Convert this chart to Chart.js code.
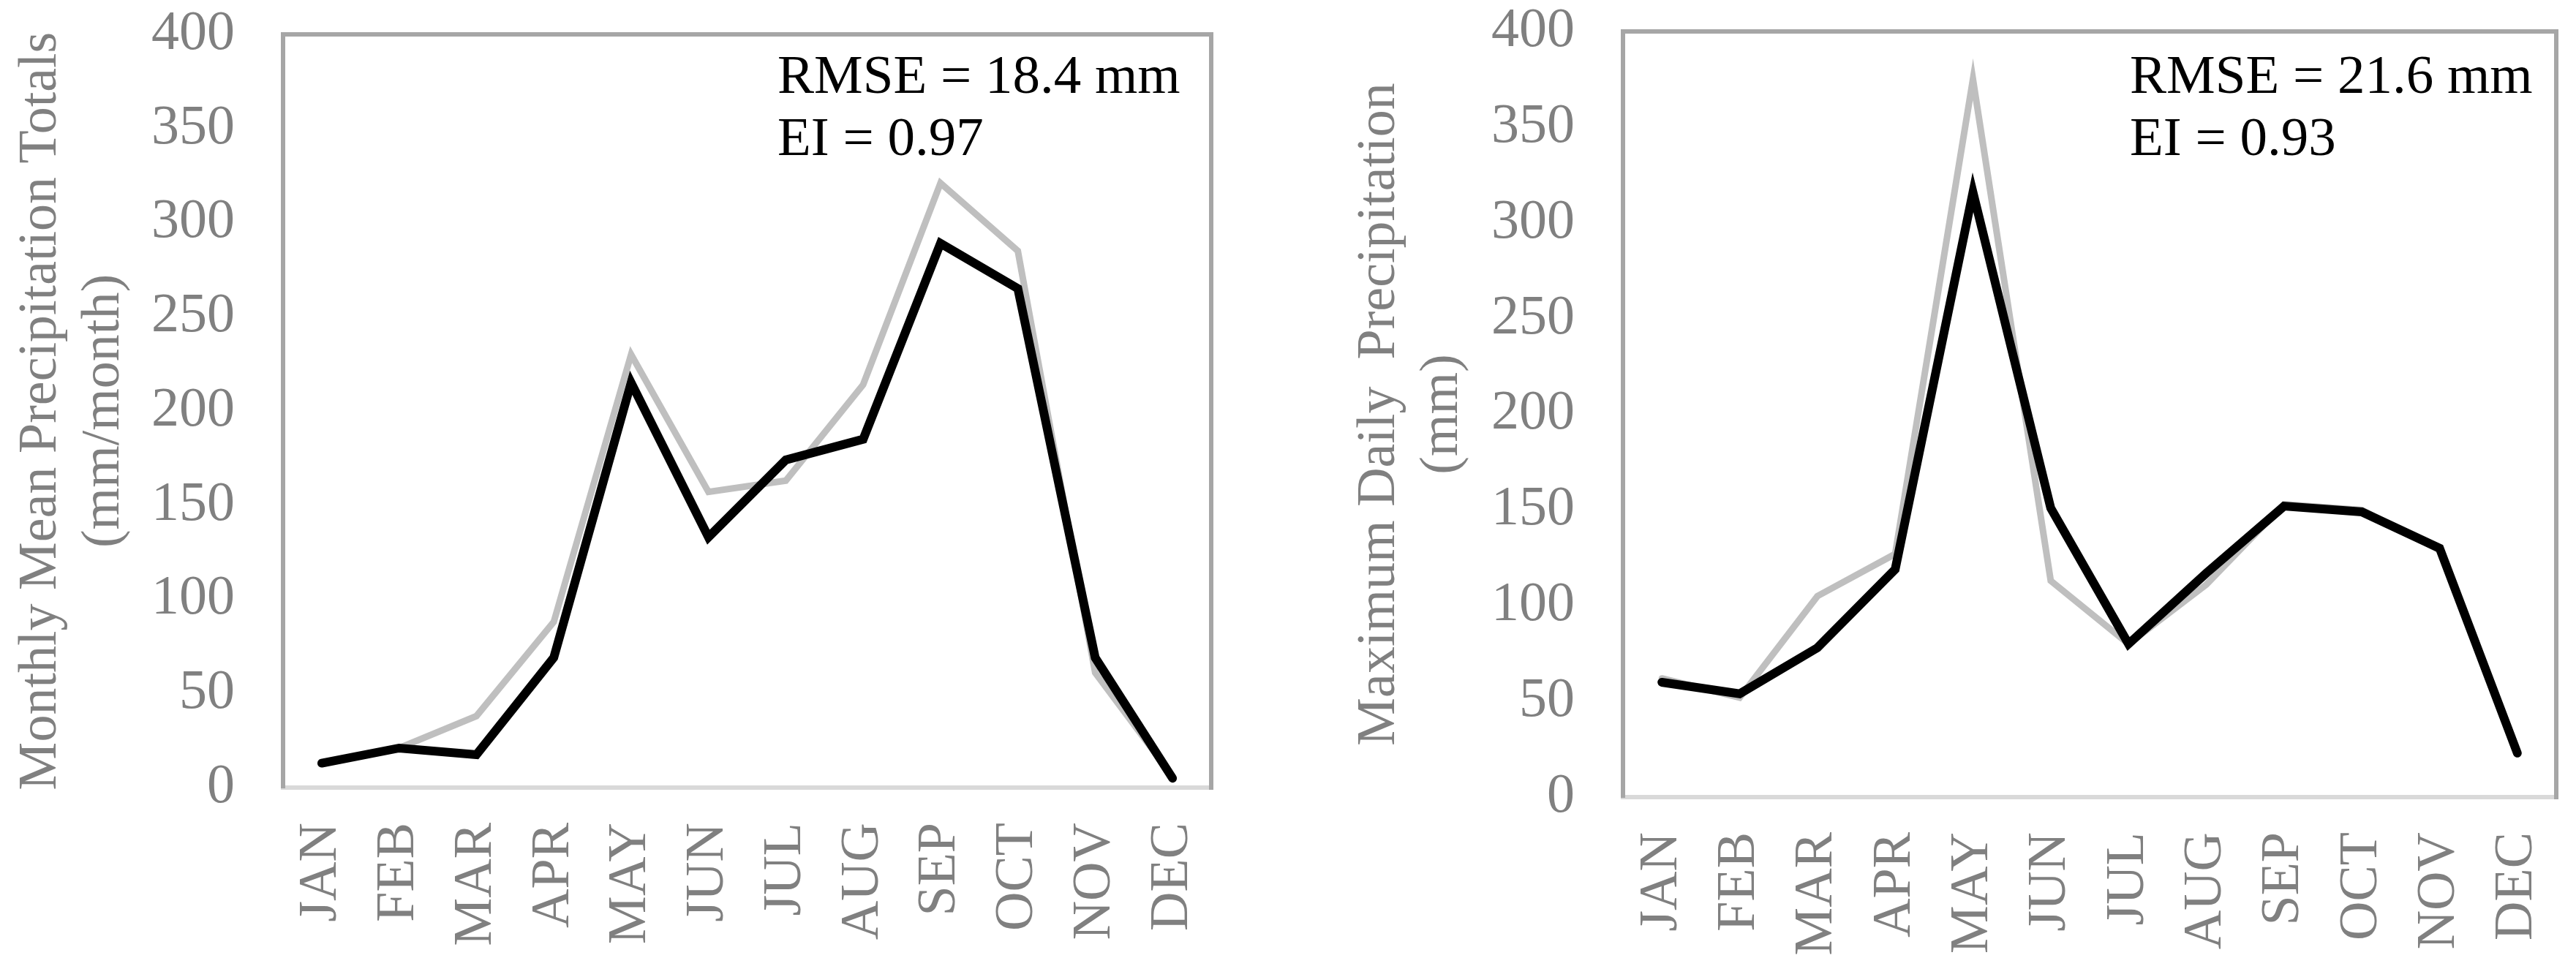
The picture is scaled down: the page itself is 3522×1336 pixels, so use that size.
<!DOCTYPE html>
<html>
<head>
<meta charset="utf-8">
<script src="https://cdn.jsdelivr.net/npm/chart.js@4.4.1/dist/chart.umd.min.js"></script>
<style>
  html, body { margin: 0; padding: 0; background: #ffffff; }
  body { width: 3522px; height: 1336px; position: relative; overflow: hidden; }
  canvas { position: absolute; top: 0; }
  #c1 { left: 0; }
  #c2 { left: 1760px; }
</style>
</head>
<body>
<canvas id="c1" width="1760" height="1336" style="width:1760px;height:1336px"></canvas>
<canvas id="c2" width="1762" height="1336" style="width:1762px;height:1336px"></canvas>
<script>
// ---- data ----
const months = ['JAN','FEB','MAR','APR','MAY','JUN','JUL','AUG','SEP','OCT','NOV','DEC'];
// Monthly mean precipitation totals (mm/month)
const monthlyGray  = [13, 21, 38, 88, 230, 157, 163, 214, 321, 285, 61, 6];
const monthlyBlack = [13, 21, 17.5, 69, 215, 133, 174, 185, 289, 265, 69, 5];
// Maximum daily precipitation (mm)
const dailyGray  = [62, 52, 105, 127, 375, 113, 80, 111, 153, 150, 129, 23];
const dailyBlack = [60, 54, 78, 119, 316, 151, 80, 117, 152, 149, 130, 23];
// axis range / ticks
const yMin = 0, yMax = 400, yStep = 50;
const leftTitle = ['Monthly Mean Precipitation Totals', '(mm/month)'];
const rightTitle = ['Maximum Daily  Precipitation', '(mm)'];
const leftStats = ['RMSE = 18.4 mm', 'EI = 0.97'];
const rightStats = ['RMSE = 21.6 mm', 'EI = 0.93'];

const SERIF = "'Liberation Serif', 'Times New Roman', 'DejaVu Serif', serif";
const GREY_TEXT = '#808080';

const framePlugin = {
  id: 'frame',
  beforeDatasetsDraw(chart) {
    const {ctx, chartArea: a} = chart;
    ctx.save();
    ctx.strokeStyle = '#a6a6a6';
    ctx.lineWidth = 6;
    ctx.beginPath();
    ctx.moveTo(a.left - 3, a.top);
    ctx.lineTo(a.right, a.top);
    ctx.lineTo(a.right, a.bottom + 3);
    ctx.stroke();
    ctx.restore();
  }
};

const statsPlugin = {
  id: 'stats',
  afterDatasetsDraw(chart, args, opts) {
    const {ctx} = chart;
    ctx.save();
    ctx.fillStyle = '#000000';
    ctx.font = '75px ' + SERIF;
    ctx.textAlign = 'left';
    ctx.textBaseline = 'alphabetic';
    opts.lines.forEach((t, i) => ctx.fillText(t, opts.x, opts.y[i]));
    ctx.restore();
  }
};

function makeChart(id, grayData, blackData, title, stats, geo) {
  return new Chart(document.getElementById(id), {
    type: 'line',
    data: {
      labels: months,
      datasets: [
        { label: 'black', data: blackData, borderColor: '#000000', borderWidth: 12,
          pointRadius: 0, tension: 0, borderCapStyle: 'round', borderJoinStyle: 'miter', fill: false },
        { label: 'gray', data: grayData, borderColor: '#bfbfbf', borderWidth: 9,
          pointRadius: 0, tension: 0, borderCapStyle: 'round', borderJoinStyle: 'miter', fill: false }
      ]
    },
    options: {
      responsive: false,
      animation: false,
      devicePixelRatio: 1,
      layout: { padding: { top: geo.top, right: geo.right, bottom: 0, left: 0 } },
      plugins: {
        legend: { display: false },
        tooltip: { enabled: false },
        stats: { lines: stats, x: geo.statsX, y: [127, 212] }
      },
      scales: {
        x: {
          offset: true,
          grid: { display: false, drawTicks: false },
          border: { display: true, color: '#d9d9d9', width: 6 },
          ticks: { color: GREY_TEXT, font: { family: SERIF, size: 74 }, minRotation: 90, maxRotation: 90, padding: 48, autoSkip: false },
          afterFit: s => { s.height = geo.xHeight; s.paddingLeft = 0; s.paddingRight = 0; }
        },
        y: {
          min: yMin, max: yMax,
          grid: { display: false, drawTicks: false },
          border: { display: true, color: '#a6a6a6', width: 6 },
          ticks: { stepSize: yStep, color: GREY_TEXT, font: { family: SERIF, size: 76 }, padding: 66 },
          title: { display: true, text: title, color: GREY_TEXT,
                   font: { family: SERIF, size: 74, lineHeight: 86 / 74 },
                   padding: { top: geo.titlePad, bottom: 0 } },
          afterFit: s => { s.width = geo.yWidth; s.paddingTop = 0; s.paddingBottom = 0; }
        }
      }
    },
    plugins: [framePlugin, statsPlugin]
  });
}

makeChart('c1', monthlyGray, monthlyBlack, leftTitle, leftStats,
  { top: 47, right: 104, xHeight: 259, yWidth: 387, titlePad: 14, statsX: 1063 });
makeChart('c2', dailyGray, dailyBlack, rightTitle, rightStats,
  { top: 43, right: 27, xHeight: 246, yWidth: 459, titlePad: 84, statsX: 1152 });
</script>
</body>
</html>
